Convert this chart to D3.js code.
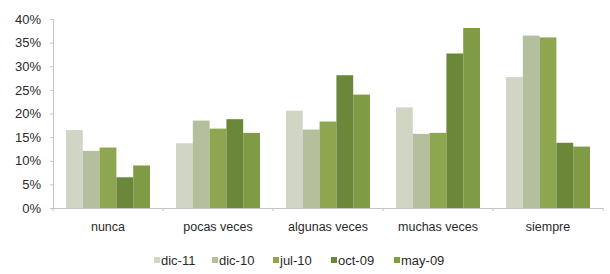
<!DOCTYPE html>
<html lang="es">
<head>
<meta charset="UTF-8">
<title>Frecuencia</title>
<script src="https://d3js.org/d3.v7.min.js"></script>
<style>
  body { margin: 0; background: #fff; font-family: "Liberation Sans", Arial, sans-serif; }
  svg text { fill: #2a2a2a; }
</style>
</head>
<body>
<svg width="610" height="274"></svg>
<script>
const categories = ["nunca", "pocas veces", "algunas veces", "muchas veces", "siempre"];
const seriesNames = ["dic-11", "dic-10", "jul-10", "oct-09", "may-09"];
const dic11 = [16.5, 13.7, 20.6, 21.3, 27.7];
const dic10 = [12.1, 18.5, 16.6, 15.7, 36.5];
const jul10 = [12.8, 16.8, 18.3, 15.9, 36.1];
const oct09 = [6.5, 18.8, 28.1, 32.7, 13.8];
const may09 = [9.0, 15.9, 24.0, 38.1, 13.0];
const yTicks = [0, 5, 10, 15, 20, 25, 30, 35, 40];
const colors = ["#d0d6c3", "#b4bf9e", "#8da64f", "#6a873a", "#7f9b45"];

const seriesValues = [dic11, dic10, jul10, oct09, may09];

const svg = d3.select("svg");
const plotLeft = 53, plotRight = 603, plotTop = 19, plotBottom = 208;

const x = d3.scaleBand().domain(categories).range([plotLeft, plotRight]).paddingInner(0).paddingOuter(0);
const inner = d3.scaleBand().domain(seriesNames).range([13, x.bandwidth() - 13]);
const y = d3.scaleLinear().domain([0, 40]).range([plotBottom, plotTop]);

// bars
categories.forEach((c, i) => {
  svg.append("g")
    .selectAll("rect")
    .data(seriesNames.map((s, j) => ({ s, v: seriesValues[j][i], j })))
    .join("rect")
    .attr("x", d => x(c) + inner(d.s))
    .attr("width", inner.bandwidth())
    .attr("y", d => y(d.v))
    .attr("height", d => y(0) - y(d.v))
    .attr("fill", d => colors[d.j]);
});

// y axis
const yAxis = svg.append("g")
  .attr("transform", `translate(${plotLeft},0)`)
  .call(d3.axisLeft(y).tickValues(yTicks).tickSize(3).tickFormat(d => d + "%"));
yAxis.selectAll("line, path").attr("stroke", "#c4c4c4");
yAxis.selectAll("text")
  .attr("x", -12)
  .style("font-size", "13px")
  .style("font-family", "'Liberation Sans', Arial, sans-serif")
  .style("fill", "#2a2a2a");

// x axis
const xAxis = svg.append("g")
  .attr("transform", `translate(0,${plotBottom})`)
  .call(d3.axisBottom(x).tickSize(0).tickPadding(14));
xAxis.select(".domain").attr("stroke", "#c4c4c4");
xAxis.selectAll("text")
  .style("font-size", "12.5px")
  .style("font-family", "'Liberation Sans', Arial, sans-serif")
  .style("fill", "#2a2a2a");
xAxis.append("g")
  .selectAll("line")
  .data(categories.concat(["end"]))
  .join("line")
  .attr("x1", (d, i) => i < categories.length ? x(d) : plotRight)
  .attr("x2", (d, i) => i < categories.length ? x(d) : plotRight)
  .attr("y1", 0).attr("y2", 3)
  .attr("stroke", "#c4c4c4");

// legend
const legend = svg.append("g").attr("transform", "translate(154,265)");
const offsets = [0, 58, 119, 177, 240];
seriesNames.forEach((s, i) => {
  const g = legend.append("g").attr("transform", `translate(${offsets[i]},0)`);
  g.append("rect").attr("x", 0).attr("y", -8).attr("width", 6).attr("height", 6).attr("fill", colors[i]);
  g.append("text").attr("x", 7).attr("y", 0)
    .style("font-size", "13px")
    .text(s);
});
</script>
</body>
</html>
